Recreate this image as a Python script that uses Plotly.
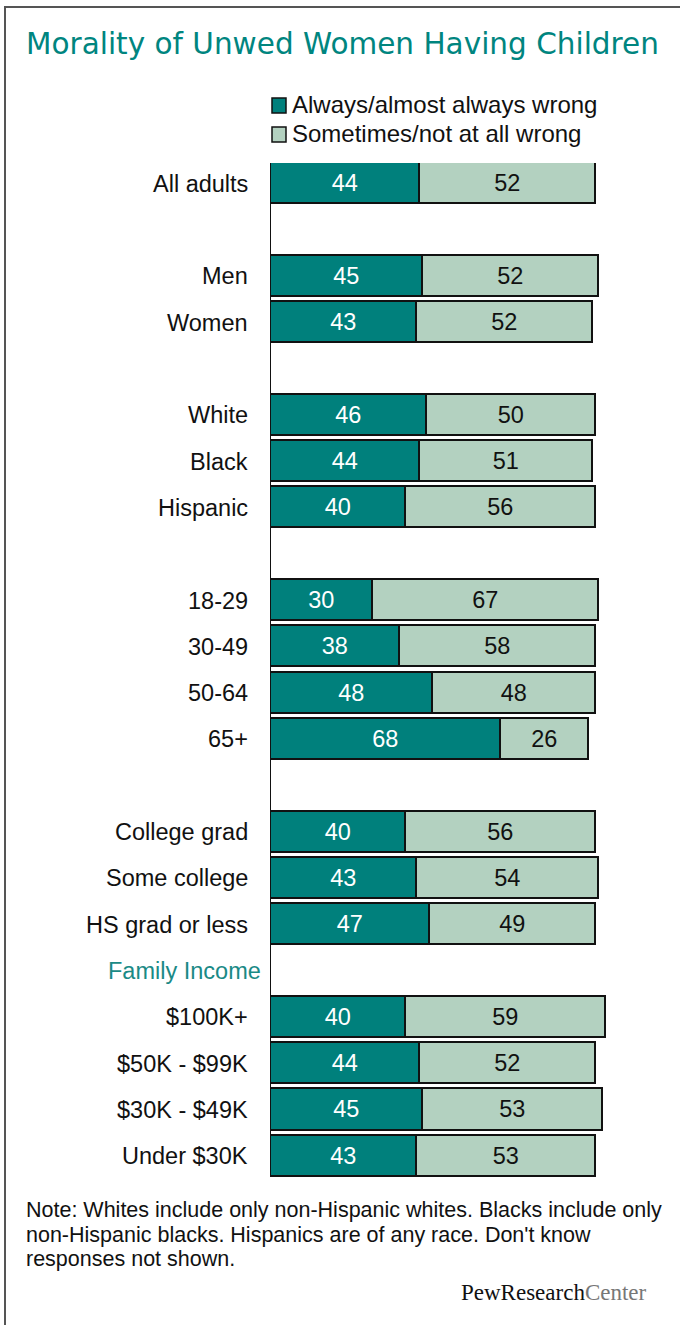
import plotly.graph_objects as go

# ---- data ----
categories = ["All adults", "Men", "Women", "White", "Black", "Hispanic",
              "18-29", "30-49", "50-64", "65+",
              "College grad", "Some college", "HS grad or less",
              "$100K+", "$50K - $99K", "$30K - $49K", "Under $30K"]
slots = [0, 2, 3, 5, 6, 7, 9, 10, 11, 12, 14, 15, 16, 18, 19, 20, 21]
always_wrong = [44, 45, 43, 46, 44, 40, 30, 38, 48, 68, 40, 43, 47, 40, 44, 45, 43]
sometimes_wrong = [52, 52, 52, 50, 51, 56, 67, 58, 48, 26, 56, 54, 49, 59, 52, 53, 53]
series_names = ["Always/almost always wrong", "Sometimes/not at all wrong"]
section_label = "Family Income"
section_slot = 17
note_lines = ["Note: Whites include only non-Hispanic whites. Blacks include only",
              "non-Hispanic blacks. Hispanics are of any race. Don't know",
              "responses not shown."]

TEAL = "#00807c"
LIGHT = "#b3d1c0"
W, H = 680, 1325
L, R_PX, T, B = 271, 680, 163, 1177
PW, PH = R_PX - L, B - T
XMAX = PW / 3.385

def px(xp):
    return (xp - L) / PW

def py(yp):
    return (B - yp) / PH

SANS = "Liberation Sans, Arial, sans-serif"
TSIZE = 23.5

fig = go.Figure()
fig.add_trace(go.Bar(
    y=slots, x=always_wrong, orientation="h", width=0.89,
    name=series_names[0],
    marker=dict(color=TEAL, line=dict(color="#111111", width=1.6)),
    text=always_wrong, textposition="inside", insidetextanchor="middle",
    textfont=dict(color="white", size=TSIZE, family=SANS),
    hoverinfo="skip", showlegend=False,
))
fig.add_trace(go.Bar(
    y=slots, x=sometimes_wrong, orientation="h", width=0.89,
    name=series_names[1],
    marker=dict(color=LIGHT, line=dict(color="#111111", width=1.6)),
    text=sometimes_wrong, textposition="inside", insidetextanchor="middle",
    textfont=dict(color="#111111", size=TSIZE, family=SANS),
    hoverinfo="skip", showlegend=False,
))

annotations = []
for cat, s in zip(categories, slots):
    annotations.append(dict(
        x=0, xref="paper", y=s, yref="y", text=cat, showarrow=False,
        xanchor="right", yanchor="middle", xshift=-21,
        font=dict(size=TSIZE, family=SANS, color="#111111"),
    ))
annotations.append(dict(
    x=0, xref="paper", y=section_slot, yref="y", text=section_label, showarrow=False,
    xanchor="right", yanchor="middle", xshift=-8,
    font=dict(size=TSIZE, family=SANS, color="#1a8a86"),
))

# title
annotations.append(dict(
    x=px(24), xref="paper", y=py(44), yref="paper", text="Morality of Unwed Women Having Children",
    showarrow=False, xanchor="left", yanchor="middle",
    font=dict(size=29.5, family="DejaVu Sans, Open Sans, sans-serif", color="#00857f"),
))

# legend
shapes = []
for i, (nm, col) in enumerate(zip(series_names, [TEAL, LIGHT])):
    yc = 105 + i * 29
    shapes.append(dict(type="rect", xref="paper", yref="paper",
                       x0=px(272), x1=px(286), y0=py(yc + 8), y1=py(yc - 7),
                       fillcolor=col, line=dict(color="#111111", width=1.5)))
    annotations.append(dict(
        x=px(290), xref="paper", y=py(yc), yref="paper", text=nm, showarrow=False,
        xanchor="left", yanchor="middle",
        font=dict(size=24, family=SANS, color="#111111"),
    ))

# note
for i, line in enumerate(note_lines):
    annotations.append(dict(
        x=px(24), xref="paper", y=py(1210 + i * 24.5), yref="paper", text=line, showarrow=False,
        xanchor="left", yanchor="middle", align="left",
        font=dict(size=21.5, family=SANS, color="#111111"),
    ))
annotations.append(dict(
    x=px(649), xref="paper", y=py(1292), yref="paper",
    text="<span style='color:#111111'>PewResearch</span><span style='color:#777777'>Center</span>",
    showarrow=False, xanchor="right", yanchor="middle",
    font=dict(size=23, family="Liberation Serif, DejaVu Serif, serif"),
))

# frame (left + top edge of the card)
shapes.append(dict(type="line", xref="paper", yref="paper",
                   x0=px(5), x1=px(5), y0=py(6), y1=py(1330),
                   line=dict(color="#555555", width=2)))
shapes.append(dict(type="line", xref="paper", yref="paper",
                   x0=px(4), x1=px(690), y0=py(7), y1=py(7),
                   line=dict(color="#555555", width=2)))

fig.update_layout(
    width=W, height=H, barmode="stack", bargap=0,
    margin=dict(l=L, r=W - R_PX, t=T, b=H - B, pad=0),
    paper_bgcolor="white", plot_bgcolor="white",
    xaxis=dict(range=[0, XMAX], visible=False, fixedrange=True),
    yaxis=dict(range=[21.445, -0.445], showticklabels=False, showgrid=False,
               zeroline=False, showline=True, linecolor="#111111", linewidth=1,
               ticks="", fixedrange=True),
    shapes=shapes, annotations=annotations, showlegend=False,
)

fig.write_html("out.html", config={"displayModeBar": False},
               post_script="document.body.style.margin='0px';")
